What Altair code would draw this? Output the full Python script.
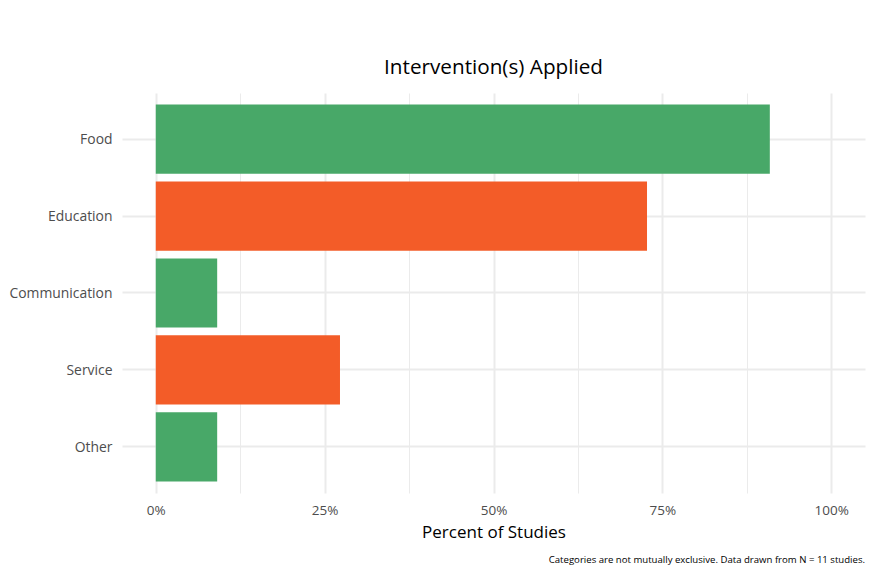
import altair as alt
import pandas as pd

categories = ["Food", "Education", "Communication", "Service", "Other"]
studies = [10, 8, 1, 3, 1]
total_n = 11
groups = ["g", "o", "g", "o", "g"]

df = pd.DataFrame({
    "category": categories,
    "pct": [s / total_n * 100 for s in studies],
    "group": groups,
})

W, H = 743, 400
FONT = "Open Sans"

bars = alt.Chart(df).mark_bar().encode(
    x=alt.X(
        "pct:Q",
        scale=alt.Scale(domain=[-5, 105], nice=False, zero=False),
        axis=alt.Axis(
            values=[0, 12.5, 25, 37.5, 50, 62.5, 75, 87.5, 100],
            labelExpr="datum.value % 25 === 0 ? datum.value + '%' : ''",
            title="Percent of Studies",
            titleFont=FONT, titleFontSize=17, titleFontWeight="normal", titleColor="#000000",
            titlePadding=8,
            labelFont=FONT, labelFontSize=13.5, labelColor="#4d4d4d", labelPadding=10,
            ticks=False, domain=False,
            grid=True, gridColor="#ebebeb",
            gridWidth=alt.ExprRef("datum.value % 25 === 0 ? 2 : 1"),
        ),
    ),
    y=alt.Y(
        "category:N",
        sort=categories,
        scale=alt.Scale(paddingInner=0.1, paddingOuter=0.15),
        axis=alt.Axis(
            title=None, ticks=False, domain=False,
            labelFont=FONT, labelFontSize=13.9, labelColor="#4d4d4d", labelPadding=10,
            labelOffset=1,
            grid=True, gridColor="#ebebeb", gridWidth=2, bandPosition=0.5,
        ),
    ),
    color=alt.Color(
        "group:N",
        scale=alt.Scale(domain=["g", "o"], range=["#48a868", "#f35c28"]),
        legend=None,
    ),
)

caption = alt.Chart(pd.DataFrame({"t": ["Categories are not mutually exclusive. Data drawn from N = 11 studies."]})).mark_text(
    align="right", baseline="middle", font=FONT, fontSize=9.6, color="#000000"
).encode(
    text="t:N",
    x=alt.value(W),
    y=alt.value(467),
)

chart = alt.layer(bars, caption).properties(
    width=W,
    height=H,
    background="white",
    title=alt.TitleParams(
        "Intervention(s) Applied",
        font=FONT, fontSize=20.7, fontWeight="normal", color="#000000",
        anchor="middle", offset=14,
    ),
    autosize=alt.AutoSizeParams(type="none"),
    padding={"left": 114, "top": 85, "right": 14, "bottom": 75},
).configure_view(strokeWidth=0)

chart.save("out.html", embed_options={"renderer": "svg", "actions": False})
